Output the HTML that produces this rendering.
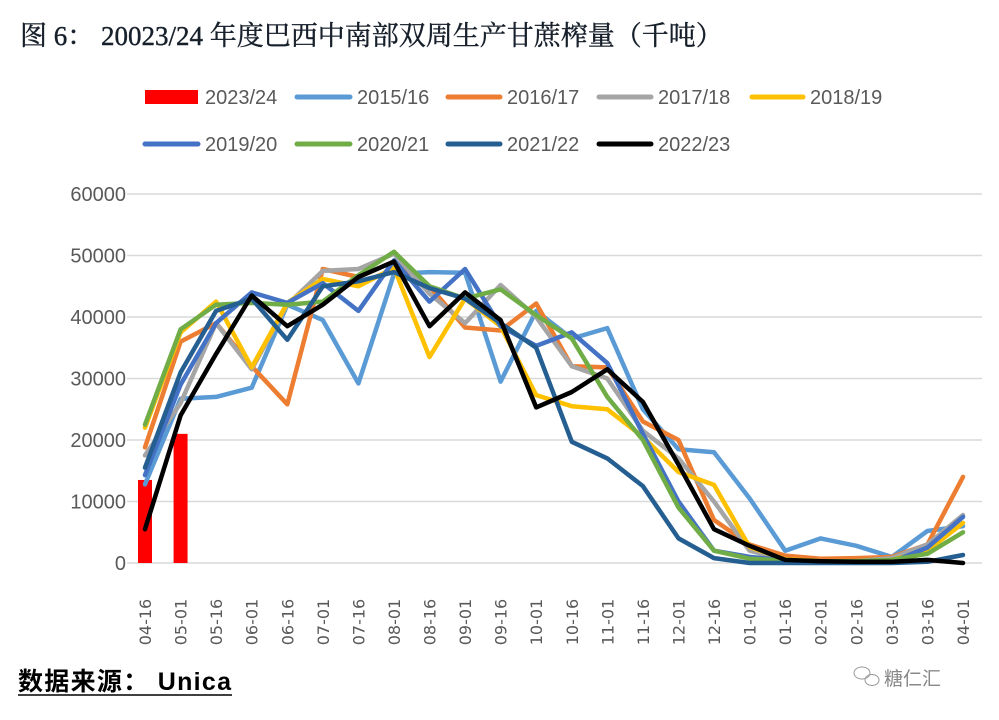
<!DOCTYPE html>
<html><head><meta charset="utf-8"><style>
body{margin:0;background:#fff;}
svg{display:block;}
</style></head><body>
<svg id="s" width="999" height="720" xmlns="http://www.w3.org/2000/svg">
<rect width="999" height="720" fill="#fff"/>
<text x="20" y="45" font-family="Liberation Serif, 'Noto Serif CJK SC', serif" font-size="27" fill="#17202b" stroke="#17202b" stroke-width="0.4">图 6：  20023/24 年度巴西中南部双周生产甘蔗榨量（千吨）</text>
<g id="grid"></g>
<g id="bars"></g>
<g id="lines" fill="none" stroke-width="4.5" stroke-linejoin="round" stroke-linecap="round"></g>
<g id="ylab" font-family="Liberation Sans, sans-serif" font-size="20" fill="#595959" text-anchor="end"></g>
<g id="xlab" font-family="DejaVu Sans, sans-serif" font-size="16" fill="#595959"></g>
<g font-family="Liberation Sans, sans-serif" font-size="20" fill="#595959">
<rect x="145" y="90" width="53" height="14" fill="#ff0000"/>
<text x="205" y="104">2023/24</text>
<line x1="297" y1="97" x2="350" y2="97" stroke="#5b9bd5" stroke-width="5" stroke-linecap="round"/><text x="357" y="104">2015/16</text>
<line x1="448" y1="97" x2="500" y2="97" stroke="#ed7d31" stroke-width="5" stroke-linecap="round"/><text x="507" y="104">2016/17</text>
<line x1="599" y1="97" x2="651" y2="97" stroke="#a5a5a5" stroke-width="5" stroke-linecap="round"/><text x="658" y="104">2017/18</text>
<line x1="752" y1="97" x2="803" y2="97" stroke="#ffc000" stroke-width="5" stroke-linecap="round"/><text x="810" y="104">2018/19</text>
<line x1="145" y1="144" x2="198" y2="144" stroke="#4472c4" stroke-width="5" stroke-linecap="round"/><text x="205" y="151">2019/20</text>
<line x1="297" y1="144" x2="350" y2="144" stroke="#70ad47" stroke-width="5" stroke-linecap="round"/><text x="357" y="151">2020/21</text>
<line x1="448" y1="144" x2="500" y2="144" stroke="#255e91" stroke-width="5" stroke-linecap="round"/><text x="507" y="151">2021/22</text>
<line x1="599" y1="144" x2="651" y2="144" stroke="#000" stroke-width="5" stroke-linecap="round"/><text x="658" y="151">2022/23</text>
</g>
<text x="18" y="690" font-family="Liberation Sans, 'Noto Sans CJK SC', sans-serif" font-size="25" font-weight="bold" fill="#000" textLength="213">数据来源： Unica</text>
<line x1="18" y1="695" x2="232" y2="695" stroke="#000" stroke-width="1.5"/>
<g stroke="#999" fill="none" stroke-width="1"><ellipse cx="862" cy="673" rx="8" ry="6"/><ellipse cx="872" cy="680" rx="7" ry="5.5"/></g>
<text x="884" y="685" font-family="'Noto Sans CJK SC', sans-serif" font-size="19" fill="#888">糖仁汇</text>
</svg>
<script>
const NS="http://www.w3.org/2000/svg";
function el(t,a,p){const e=document.createElementNS(NS,t);for(const k in a)e.setAttribute(k,a[k]);document.getElementById(p).appendChild(e);return e;}
const X=i=>145+i*35.565, Y=v=>563-v*6.15;
for(let k=0;k<=6;k++){const y=Y(k*10);el('line',{x1:127,x2:982,y1:y,y2:y,stroke:'#d9d9d9','stroke-width':1.5},'grid');
 const t=el('text',{x:126,y:y+7},'ylab');t.textContent=String(k*10000);}
const labs=["04-16","05-01","05-16","06-01","06-16","07-01","07-16","08-01","08-16","09-01","09-16","10-01","10-16","11-01","11-16","12-01","12-16","01-01","01-16","02-01","02-16","03-01","03-16","04-01"];
labs.forEach((l,i)=>{const t=el('text',{transform:`translate(${X(i)+6},${622}) rotate(-90)`,'text-anchor':'middle'},'xlab');t.textContent=l;});
el('rect',{x:X(0)-7,y:Y(13.5),width:14,height:Y(0)-Y(13.5),fill:'#ff0000'},'bars');
el('rect',{x:X(1)-7,y:Y(21),width:14,height:Y(0)-Y(21),fill:'#ff0000'},'bars');
const S=[
["#5b9bd5",[12.8,26.7,27,28.5,42,39.5,29.2,47,47.3,47.2,29.5,41,36.5,38.2,25,18.5,18,10.5,2,4,2.8,1,5.2,6]],
["#ed7d31",[18.8,36,39,32,25.8,47.8,46.5,49,45,38.3,37.8,42.2,32,31.8,23,20,7,3,1.2,0.7,0.8,1,3,14]],
["#a5a5a5",[17.5,26,39,31.5,42,47.5,47.8,50.3,43.8,39,45.2,40,32,30,21.5,17,10,2,0.5,0.3,0.3,0.8,3,7.8]],
["#ffc000",[22,37.5,42.5,31.8,42.3,46.2,45,48,33.5,43,38.5,27.3,25.5,25,20.5,14.8,12.7,2.6,0.6,0.3,0.3,0.5,2,6.5]],
["#4472c4",[14.3,29,39,44,42.3,45.5,41,49.2,42.5,47.8,38.5,35.3,37.5,32.5,21,10,2,1,0.4,0.2,0.2,0.2,2.5,7.5]],
["#70ad47",[22.5,38,42,42.3,42,42.5,46.8,50.6,45,43,44.5,40.3,36.5,27,20,9,2,0.7,0.4,0.3,0.3,0.5,1.5,5]],
["#255e91",[15.5,31,41,43,36.3,45,45.8,47.3,44.7,43,39,35,19.7,17,12.5,4,0.8,0,0,0,0,0,0.2,1.3]],
["#000000",[5.5,24,34,43.5,38.5,42,46.5,49,38.5,44,39.5,25.3,27.8,31.5,26.2,16,5.5,2.8,0.5,0.3,0.2,0.2,0.5,0]]];
S.forEach(([c,d])=>el('polyline',{stroke:c,points:d.map((v,i)=>X(i).toFixed(1)+','+Y(v).toFixed(1)).join(' ')},'lines'));
</script>
</body></html>
